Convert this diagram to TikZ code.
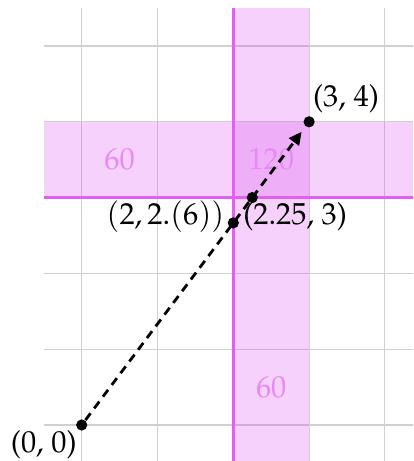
\documentclass[tikz,border=0pt]{standalone}
\usepackage[T1]{fontenc}
\usepackage{mathpazo}
\usetikzlibrary{arrows.meta}
\definecolor{fuch}{HTML}{D946EF}
\definecolor{bandline}{HTML}{E060F2}
\definecolor{bandtext}{HTML}{E88AF5}
\definecolor{gridgray}{HTML}{D0D0D0}
\begin{document}
\begin{tikzpicture}[x=1cm,y=1cm, font=\fontsize{11.4}{13}\selectfont,
  dot/.style={circle,fill=black,inner sep=0pt,minimum size=4.2pt},
  lab/.style={inner sep=0pt},
  bandlabel/.style={text=bandtext, inner sep=0pt},
  band/.style={fill=fuch, fill opacity=0.25},
  bandedge/.style={draw=bandline, line width=1.1pt},
  vec/.style={dash pattern=on 3.2pt off 2.3pt, line width=1.05pt, -{Triangle[length=4.8pt,width=4.6pt]}, shorten >=2.4pt}]
\useasboundingbox (-1.078,-0.475) rectangle (4.371,5.607);
\begin{scope}
\clip (-1.078,-0.475) rectangle (4.371,5.607);
\draw[gridgray, line width=0.4pt] (-0.5,-0.6) grid (4.5,5.5);
\fill[band] (2,-0.6) rectangle (3,5.5);
\fill[band] (-0.5,3) rectangle (4.5,4);
\draw[bandedge] (2,-0.6) -- (2,5.5);
\draw[bandedge] (-0.5,3) -- (4.5,3);
\end{scope}
\node[bandlabel] (l1) at (0.5,3.5) {60};
\node[bandlabel] (l2) at (2.5,3.5) {120};
\node[bandlabel] (l3) at (2.5,0.5) {60};
\node[dot] (o) at (0,0) {};
\node[dot] (p) at (3,4) {};
\node[dot] (q) at (2,2.6667) {};
\node[dot] (r) at (2.25,3) {};
\draw[vec] (o) -- (p);
\node[lab, anchor=east] (lq) at (1.89,2.75) {$(2, 2.(6))$};
\node[lab] (lr) at (2.816,2.748) {(2.25, 3)};
\node[lab] (lp) at (3.487,4.31) {(3, 4)};
\node[lab] (lo) at (-0.5,-0.264) {(0, 0)};
\end{tikzpicture}
\end{document}
